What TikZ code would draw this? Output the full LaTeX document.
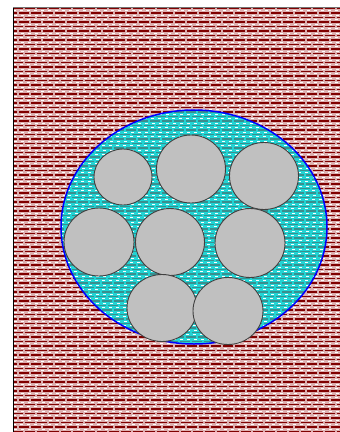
\documentclass[tikz,border=0pt]{standalone}
\usetikzlibrary{shapes.geometric}
\definecolor{brickbg}{HTML}{DDB0B0}
\definecolor{brickline}{HTML}{800000}
\definecolor{cyanbg}{HTML}{22D4D4}
\definecolor{cyanline}{HTML}{3A8E8E}
\definecolor{discfill}{HTML}{C0C0C0}
\tikzset{
  disc/.style={ellipse, draw=black!75, line width=0.9pt, fill=discfill, inner sep=0pt},
  rowred/.style={draw=brickline, line width=1.1pt, dash pattern=on 10pt off 2pt},
  rowwhite/.style={draw=white, line width=1pt, dash pattern=on 3pt off 4pt},
  rowteal/.style={draw=cyanline, line width=1.1pt, dash pattern=on 10pt off 2pt},
}
\begin{document}
\begin{tikzpicture}[x=1pt,y=-1pt]
\useasboundingbox (0,0) rectangle (340,432);
% background brick area
\begin{scope}
  \clip (13,7) rectangle (340,432);
  \fill[brickbg] (13,7) rectangle (340,432);
  \foreach \k [evaluate=\k as \ph using {mod(\k,2)*6}, evaluate=\k as \yy using {8.5+4.5*\k}] in {0,...,94} {
    \draw[rowred, dash phase=\ph pt] (13,\yy) -- (340,\yy);
    \draw[rowwhite, dash phase=\ph pt] (13,\yy+2.2) -- (340,\yy+2.2);
  }
\end{scope}
\draw[black, line width=1.2pt] (13.5,7) -- (13.5,432);
\draw[black!55, line width=1pt] (13,7.5) -- (340,7.5);
% big ellipse
\coordinate (bigc) at (194,227);
\begin{scope}
  \clip (bigc) ellipse [x radius=133, y radius=117];
  \fill[cyanbg] (bigc) ellipse [x radius=133, y radius=117];
  \foreach \k [evaluate=\k as \ph using {mod(\k,2)*6}, evaluate=\k as \yy using {8.5+4.5*\k}] in {22,...,77} {
    \draw[rowteal, dash phase=\ph pt] (60,\yy) -- (330,\yy);
    \draw[rowwhite, dash phase=\ph pt] (60,\yy+2.2) -- (330,\yy+2.2);
  }
\end{scope}
\draw[blue, line width=1.5pt] (bigc) ellipse [x radius=133, y radius=117];
% discs
\node[disc, minimum width=58pt, minimum height=56pt] (d1) at (123,177) {};
\node[disc, minimum width=69pt, minimum height=68pt] (d2) at (191,169) {};
\node[disc, minimum width=69pt, minimum height=67pt] (d3) at (264,176) {};
\node[disc, minimum width=70pt, minimum height=68pt] (d4) at (99,242) {};
\node[disc, minimum width=69pt, minimum height=67pt] (d5) at (170,242) {};
\node[disc, minimum width=70pt, minimum height=69pt] (d6) at (250,243) {};
\node[disc, minimum width=70pt, minimum height=67pt] (d7) at (162,308) {};
\node[disc, minimum width=70pt, minimum height=67pt] (d8) at (228,311) {};
\end{tikzpicture}
\end{document}
